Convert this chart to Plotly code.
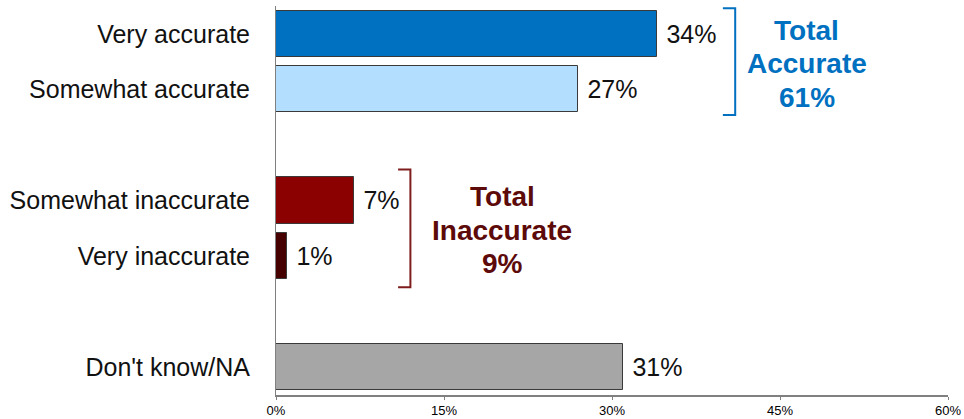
import plotly.graph_objects as go

categories = ["Very accurate", "Somewhat accurate", "Somewhat inaccurate", "Very inaccurate", "Don't know/NA"]
positions = [0, 1, 3, 4, 6]
values = [34, 27, 7, 1, 31]
colors = ["#0070C0", "#B3DEFE", "#8B0000", "#460000", "#A6A6A6"]
x_ticks = [0, 15, 30, 45, 60]
x_ticklabels = ["0%", "15%", "30%", "45%", "60%"]
group_lines = [["Total", "Accurate", "61%"], ["Total", "Inaccurate", "9%"]]
group_rows = [[0, 1], [2, 3]]
group_text_colors = ["#0070C0", "#5C0A0A"]
group_bracket_colors = ["#0070C0", "#7F1D1D"]

# styling / placement offsets for the bracket callouts (in axis units)
bracket_gap = [7.0, 5.0]
bracket_pad = [0.46, 0.56]
text_gap = [6.4, 8.2]

FONT = "Liberation Sans, Arial, sans-serif"

fig = go.Figure()
fig.add_trace(go.Bar(
    y=positions, x=values, orientation="h",
    marker=dict(color=colors, line=dict(color="#3A3A3A", width=1)),
    width=0.83,
    text=[f" {v}%" for v in values], textposition="outside",
    textfont=dict(family=FONT, size=25, color="#111111"),
    cliponaxis=False,
    showlegend=False,
))

shapes = []
annotations = []
for gi, rows in enumerate(group_rows):
    top = positions[rows[0]] - bracket_pad[gi]
    bot = positions[rows[-1]] + bracket_pad[gi]
    xb = max(values[r] for r in rows) + bracket_gap[gi]
    shapes.append(dict(
        type="path", xref="x", yref="y",
        path=f"M {xb-1.1} {top} L {xb} {top} L {xb} {bot} L {xb-1.1} {bot}",
        line=dict(color=group_bracket_colors[gi], width=2),
    ))
    ymid = (positions[rows[0]] + positions[rows[-1]]) / 2
    for li, line in enumerate(group_lines[gi]):
        annotations.append(dict(
            x=xb + text_gap[gi], y=ymid, xref="x", yref="y",
            yshift=(1 - li) * 33.5 - 2,
            text=f"<b>{line}</b>", showarrow=False, align="center",
            font=dict(family=FONT, size=28, color=group_text_colors[gi]),
        ))

fig.update_layout(
    width=964, height=419,
    margin=dict(l=276, r=16, t=6, b=24, autoexpand=False),
    plot_bgcolor="white", paper_bgcolor="white",
    bargap=0,
    shapes=shapes, annotations=annotations,
    xaxis=dict(
        range=[0, 60], tickvals=x_ticks, ticktext=x_ticklabels,
        showgrid=False, zeroline=False, automargin=False,
        showline=True, linecolor="#808080", linewidth=2,
        ticks="outside", ticklen=3, tickcolor="#808080",
        ticklabelstandoff=-1,
        tickfont=dict(family="Liberation Sans Narrow, Arial Narrow, Liberation Sans, sans-serif", size=13, color="#000000"),
        fixedrange=True,
    ),
    yaxis=dict(
        range=[6.5, -0.5], tickvals=positions, ticktext=categories,
        showgrid=False, zeroline=False, automargin=False,
        showline=True, linecolor="#808080", linewidth=1,
        ticks="", ticklabelstandoff=20,
        tickfont=dict(family=FONT, size=25, color="#111111"),
        fixedrange=True,
    ),
)

fig.write_html("out.html")
